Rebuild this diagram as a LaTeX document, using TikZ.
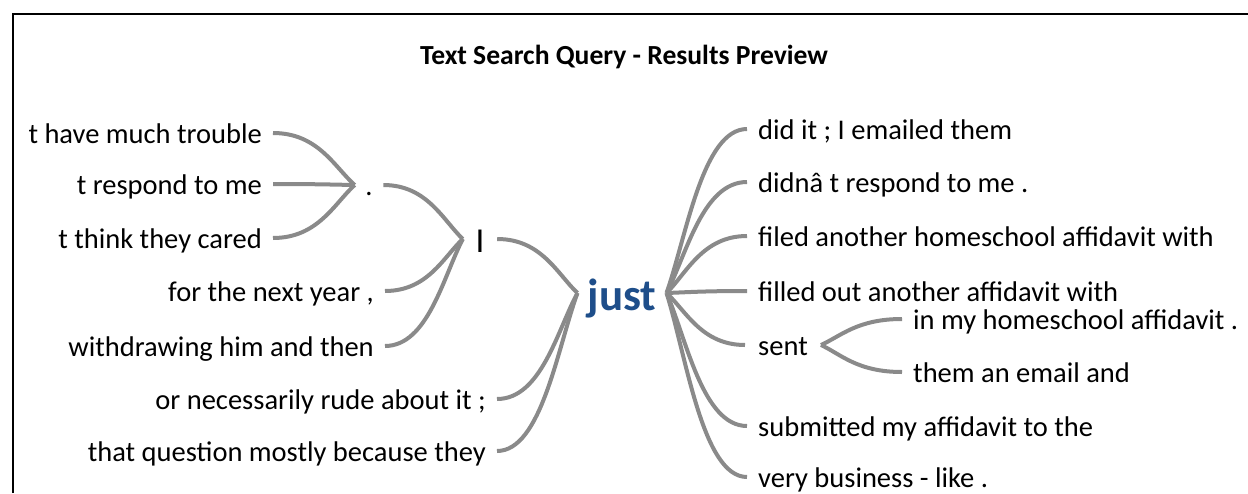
\documentclass[tikz,border=0pt]{standalone}
\usepackage{fontspec}
\setmainfont{Carlito}
\usetikzlibrary{calc}
\definecolor{linkgray}{RGB}{138,138,138}
\definecolor{keyblue}{RGB}{30,78,138}
\tikzset{
  word/.style={font=\fontsize{28.5}{32}\selectfont, inner ysep=0pt, inner xsep=11pt,
    text height=20pt, text depth=0pt},
  leftleaf/.style={word, anchor=east},
  rightleaf/.style={word, anchor=west},
  link/.style={draw=linkgray, line width=4pt,
    to path={let \p1=(\tikztostart), \p2=(\tikztotarget) in
      .. controls (\x1+0.55*\x2-0.55*\x1,\y1) and (\x2-0.25*\x2+0.25*\x1,\y2-0.35*\y2+0.35*\y1) .. (\tikztotarget)}},
}
\begin{document}
\begin{tikzpicture}[x=1pt,y=-1pt]
\useasboundingbox (0,0) rectangle (1248,493);
% frame
\draw[line width=2.6pt] (13,493) -- (13,14) -- (1248,14);
% title
\node[font=\fontsize{27.6}{30}\selectfont\bfseries] (title) at (624,57) {Text Search Query - Results Preview};

% keyword and inner hubs
\node[word, font=\fontsize{45}{50}\selectfont\bfseries, text=keyblue, inner xsep=10pt,
  text height=34pt] (just) at (622,293) {just};
\node[word, font=\fontsize{35}{40}\selectfont, inner xsep=12.6pt, text height=26pt] (pI) at (480,239) {I};
\node[word, inner xsep=10.5pt] (dot) at (369,185) {.};

% left leaves
\node[leftleaf] (l1) at (273,133) {t have much trouble};
\node[leftleaf] (l2) at (273,184) {t respond to me};
\node[leftleaf] (l3) at (273,238) {t think they cared};
\node[leftleaf] (l4) at (385,291) {for the next year ,};
\node[leftleaf] (l5) at (385,346) {withdrawing him and then};
\node[leftleaf] (l6) at (497,399) {or necessarily rude about it ;};
\node[leftleaf] (l7) at (497,451) {that question mostly because they};

% right leaves
\node[rightleaf] (r1) at (747,129) {did it ; I emailed them};
\node[rightleaf] (r2) at (747,182) {didnâ t respond to me .};
\node[rightleaf] (r3) at (747,236) {filed another homeschool affidavit with};
\node[rightleaf] (r4) at (747,291) {filled out another affidavit with};
\node[rightleaf, inner xsep=13pt] (sent) at (745,345) {sent};
\node[rightleaf] (s1) at (902,319) {in my homeschool affidavit .};
\node[rightleaf] (s2) at (902,372) {them an email and};
\node[rightleaf] (r6) at (747,426) {submitted my affidavit to the};
\node[rightleaf] (r7) at (747,477) {very business - like .};

% connectors
\foreach \leaf in {l1,l2,l3} \draw[link] (\leaf.east) to (dot.west);
\foreach \leaf in {dot,l4,l5} \draw[link] (\leaf.east) to (pI.west);
\foreach \leaf in {pI,l6,l7} \draw[link] (\leaf.east) to (just.west);
\foreach \leaf in {r1,r2,r3,r4,sent,r6,r7} \draw[link] (\leaf.west) to (just.east);
\foreach \leaf in {s1,s2} \draw[link] (\leaf.west) to (sent.east);
\end{tikzpicture}
\end{document}
